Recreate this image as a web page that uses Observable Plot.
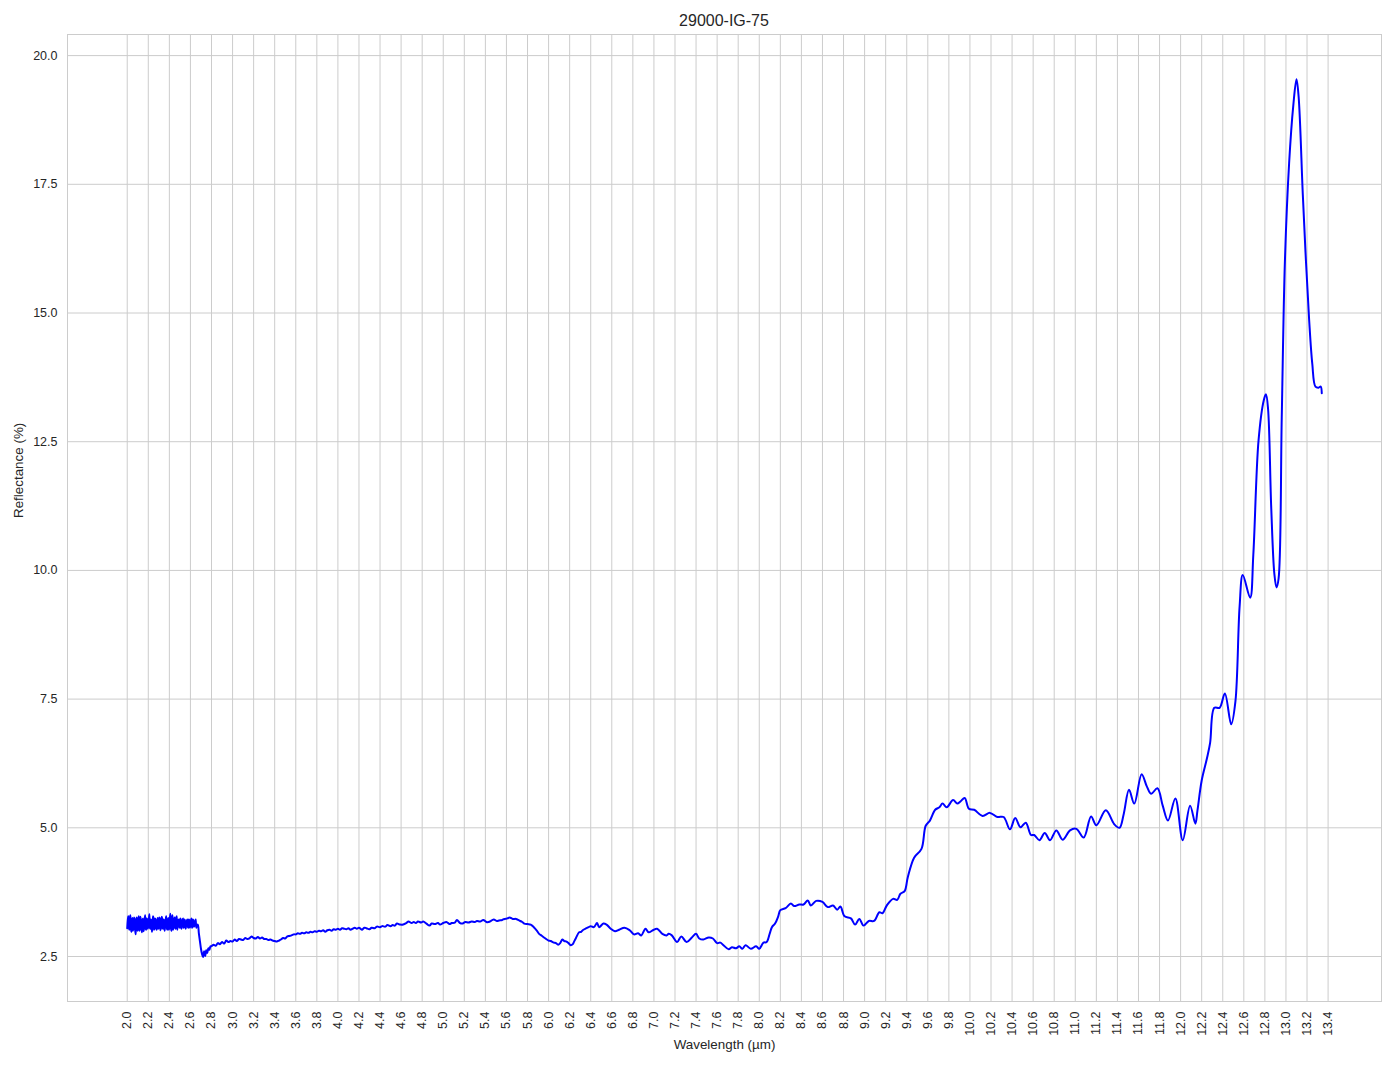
<!DOCTYPE html>
<html>
<head>
<meta charset="utf-8">
<script src="https://cdn.jsdelivr.net/npm/d3@7"></script>
<script src="https://cdn.jsdelivr.net/npm/@observablehq/plot@0.6"></script>
<style>
  html, body { margin: 0; padding: 0; background: #ffffff; }
  #title { height: 30px; box-sizing: border-box; padding-top: 13px; text-align: center;
           font-family: "Liberation Sans", Arial, sans-serif; font-size: 16px; line-height: 16px; color: #262626;
           width: 1394px; padding-left: 54px; }
  svg { display: block; }
</style>
</head>
<body>
<div id="title"></div>
<div id="chart"></div>
<script>
const chartTitle = "29000-IG-75";
const xLabel = "Wavelength (µm)";
const yLabel = "Reflectance (%)";

const xTicks = [2.0,2.2,2.4,2.6,2.8,3.0,3.2,3.4,3.6,3.8,4.0,4.2,4.4,4.6,4.8,5.0,5.2,5.4,5.6,5.8,
  6.0,6.2,6.4,6.6,6.8,7.0,7.2,7.4,7.6,7.8,8.0,8.2,8.4,8.6,8.8,9.0,9.2,9.4,9.6,9.8,
  10.0,10.2,10.4,10.6,10.8,11.0,11.2,11.4,11.6,11.8,12.0,12.2,12.4,12.6,12.8,13.0,13.2,13.4];
const yTicks = [2.5,5.0,7.5,10.0,12.5,15.0,17.5,20.0];

const wavelength = [
  2.000,2.005,2.010,2.015,2.020,2.025,2.030,2.035,2.040,2.045,
  2.050,2.055,2.060,2.065,2.070,2.075,2.080,2.085,2.090,2.095,
  2.100,2.105,2.110,2.115,2.120,2.125,2.130,2.135,2.140,2.145,
  2.150,2.155,2.160,2.165,2.170,2.175,2.180,2.185,2.190,2.195,
  2.200,2.205,2.210,2.215,2.220,2.225,2.230,2.235,2.240,2.245,
  2.250,2.255,2.260,2.265,2.270,2.275,2.280,2.285,2.290,2.295,
  2.300,2.305,2.310,2.315,2.320,2.325,2.330,2.335,2.340,2.345,
  2.350,2.355,2.360,2.365,2.370,2.375,2.380,2.385,2.390,2.395,
  2.400,2.405,2.410,2.415,2.420,2.425,2.430,2.435,2.440,2.445,
  2.450,2.455,2.460,2.465,2.470,2.475,2.480,2.485,2.490,2.495,
  2.500,2.505,2.510,2.515,2.520,2.525,2.530,2.535,2.540,2.545,
  2.550,2.555,2.560,2.565,2.570,2.575,2.580,2.585,2.590,2.595,
  2.600,2.605,2.610,2.615,2.620,2.625,2.630,2.635,2.640,2.645,
  2.650,2.655,2.660,
  2.67,2.68,2.69,2.70,2.71,2.72,2.73,2.74,2.75,2.76,2.77,2.78,2.79,
  2.80,2.82,2.84,2.86,2.88,2.90,2.92,2.94,2.96,2.98,
  3.00,3.02,3.04,3.06,3.08,3.10,3.12,3.14,3.16,3.18,
  3.20,3.22,3.24,3.26,3.28,3.30,3.32,3.34,3.36,3.38,
  3.40,3.42,3.44,3.46,3.48,3.50,3.52,3.54,3.56,3.58,
  3.60,3.62,3.64,3.66,3.68,3.70,3.72,3.74,3.76,3.78,
  3.80,3.82,3.84,3.86,3.88,3.90,3.92,3.94,3.96,3.98,
  4.00,4.02,4.04,4.06,4.08,4.10,4.12,4.14,4.16,4.18,
  4.20,
  4.23,4.25,4.27,4.30,4.32,4.35,4.37,4.40,4.42,4.45,
  4.47,4.50,4.52,4.54,4.56,4.59,4.62,4.65,4.67,4.70,
  4.72,4.74,4.76,4.79,4.81,4.84,4.87,4.89,4.92,4.95,
  4.97,5.00,5.03,5.06,5.08,5.11,5.13,5.16,5.18,5.21,
  5.24,5.27,5.30,5.32,5.35,5.38,5.41,5.43,5.46,5.48,
  5.51,5.53,5.56,5.58,5.61,5.63,5.66,5.69,5.72,5.75,
  5.77,5.80,5.83,5.86,5.89,5.91,5.93,5.95,5.97,6.00,
  6.02,6.05,6.07,6.09,6.11,6.13,6.15,6.17,6.19,6.21,
  6.23,6.24,6.26,6.29,6.31,6.33,6.35,6.38,6.40,6.43,
  6.46,6.48,6.52,6.55,6.59,6.63,6.67,6.72,6.77,6.81,
  6.85,6.88,6.92,6.95,6.99,7.03,7.08,7.12,7.14,7.17,
  7.22,7.26,7.31,7.36,7.40,7.43,7.47,7.52,7.56,7.60,
  7.63,7.66,7.71,7.74,7.78,7.81,7.84,7.87,7.92,7.97,
  8.00,8.04,8.07,8.10,8.12,8.15,8.18,8.20,8.25,8.30,
  8.33,8.38,8.42,8.46,8.49,8.54,8.60,8.65,8.70,8.74,
  8.77,8.81,8.87,8.91,8.95,8.99,9.04,9.09,9.14,9.17,
  9.21,9.27,9.31,9.34,9.38,9.41,9.47,9.54,9.58,9.62,
  9.67,9.71,9.74,9.78,9.84,9.88,9.91,9.95,9.99,10.04,
  10.12,10.19,10.26,10.32,10.38,10.43,10.48,10.53,10.58,10.61,
  10.66,10.71,10.76,10.82,10.88,10.95,11.01,11.08,11.15,11.20,
  11.29,11.37,11.42,11.46,11.51,11.56,11.63,11.68,11.72,11.78,11.83,11.88,11.95,
  12.02,12.09,12.14,12.16,12.20,12.25,12.28,12.32,12.37,12.42,
  12.48,12.52,12.56,12.59,12.66,12.69,12.74,12.79,12.81,12.83,
  12.86,12.89,12.91,12.93,12.96,12.99,13.03,13.07,13.10,13.12,
  13.16,13.19,13.22,13.25,13.28,13.31,13.33,13.34
];

const reflectance = [
  3.05,3.20,3.28,3.08,3.02,3.24,3.30,3.04,2.98,3.18,
  3.25,3.00,3.08,3.26,3.22,3.02,2.93,3.20,3.26,3.06,
  3.00,3.22,3.28,3.00,3.05,3.27,3.20,3.03,2.97,3.20,
  3.24,2.99,3.06,3.18,3.30,3.05,3.02,3.24,3.22,3.04,
  3.08,3.20,3.32,3.06,3.04,3.22,3.18,2.98,3.10,3.28,
  3.24,3.02,3.06,3.24,3.20,3.05,3.02,3.20,3.25,3.04,
  3.08,3.26,3.22,3.01,3.05,3.24,3.27,3.06,3.04,3.22,
  3.20,3.00,3.10,3.20,3.28,3.06,3.02,3.18,3.25,3.02,
  3.06,3.24,3.33,3.05,3.00,3.22,3.30,3.02,3.08,3.20,
  3.26,3.06,3.04,3.24,3.28,3.02,3.10,3.20,3.22,3.08,
  3.06,3.24,3.20,3.04,3.10,3.20,3.24,3.06,3.08,3.22,
  3.18,3.04,3.12,3.18,3.22,3.08,3.06,3.22,3.20,3.06,
  3.10,3.20,3.24,3.06,3.08,3.22,3.18,3.08,3.12,3.18,
  3.22,3.06,3.10,
  3.12,2.95,2.80,2.65,2.55,2.49,2.60,2.51,2.62,2.57,2.66,2.63,2.70,
  2.70,2.73,2.71,2.76,2.74,2.78,2.75,2.81,2.78,2.80,
  2.79,2.83,2.80,2.84,2.83,2.82,2.86,2.84,2.85,2.89,
  2.86,2.85,2.88,2.85,2.87,2.84,2.84,2.82,2.83,2.81,
  2.80,2.79,2.81,2.83,2.86,2.85,2.89,2.90,2.91,2.93,
  2.93,2.95,2.94,2.96,2.95,2.97,2.96,2.98,2.97,2.99,
  2.98,3.00,2.99,3.01,2.98,3.01,3.02,3.00,3.03,3.02,
  3.04,3.02,3.05,3.04,3.03,3.05,3.02,3.04,3.06,3.04,
  3.06,
  3.02,3.06,3.05,3.03,3.06,3.05,3.08,3.07,3.09,3.08,
  3.11,3.09,3.11,3.10,3.14,3.12,3.12,3.15,3.18,3.15,
  3.17,3.15,3.18,3.16,3.18,3.14,3.10,3.14,3.13,3.15,
  3.12,3.15,3.17,3.13,3.15,3.16,3.21,3.15,3.14,3.17,
  3.16,3.18,3.17,3.19,3.18,3.21,3.17,3.17,3.20,3.22,
  3.19,3.20,3.21,3.23,3.24,3.26,3.23,3.23,3.20,3.17,
  3.14,3.13,3.12,3.07,3.00,2.94,2.91,2.88,2.85,2.81,
  2.80,2.77,2.76,2.73,2.76,2.83,2.80,2.79,2.76,2.72,
  2.74,2.78,2.86,2.97,2.98,3.02,3.04,3.07,3.09,3.07,
  3.15,3.07,3.14,3.12,3.04,2.99,3.02,3.06,3.01,2.93,
  2.95,2.91,3.04,2.97,3.01,3.04,2.94,2.91,2.94,2.91,
  2.78,2.89,2.78,2.87,2.94,2.85,2.83,2.87,2.85,2.76,
  2.77,2.72,2.64,2.68,2.66,2.70,2.65,2.72,2.65,2.70,
  2.65,2.77,2.78,2.95,3.07,3.14,3.28,3.40,3.44,3.53,
  3.48,3.51,3.51,3.59,3.49,3.58,3.56,3.46,3.49,3.41,
  3.47,3.28,3.24,3.12,3.23,3.10,3.19,3.19,3.36,3.34,
  3.49,3.62,3.60,3.72,3.77,4.04,4.42,4.59,5.04,5.14,
  5.35,5.40,5.47,5.40,5.54,5.47,5.51,5.58,5.37,5.35,
  5.23,5.29,5.21,5.21,4.97,5.19,5.01,5.10,4.86,4.86,
  4.76,4.90,4.76,4.95,4.77,4.95,4.98,4.81,5.22,5.05,
  5.34,5.07,5.00,5.27,5.74,5.47,6.04,5.80,5.66,5.77,5.43,5.14,5.57,
  4.76,5.43,5.08,5.34,5.92,6.35,6.65,7.33,7.33,7.61,
  7.01,7.45,9.30,9.91,9.47,10.30,12.53,13.31,13.42,13.14,
  11.23,9.93,9.67,9.84,12.97,16.00,17.91,19.04,19.54,19.21,
  17.30,16.00,14.87,14.01,13.57,13.55,13.57,13.44
];

if (wavelength.length !== reflectance.length) {
  throw new Error("length mismatch " + wavelength.length + " vs " + reflectance.length);
}

const data = wavelength.map((w, i) => ({wl: w, r: reflectance[i]}));
const fmt = d3.format(".1f");

document.getElementById("title").textContent = chartTitle;

const chart = Plot.plot({
  width: 1394,
  height: 1039,
  marginTop: 4,
  marginLeft: 67,
  marginRight: 13,
  marginBottom: 68,
  style: {fontFamily: "'Liberation Sans', Arial, sans-serif", fontSize: "12.5px", color: "#262626", background: "#ffffff"},
  x: {domain: [1.433, 13.907]},
  y: {domain: [1.626, 20.41]},
  marks: [
    Plot.gridX(xTicks, {stroke: "#cccccc", strokeOpacity: 1, strokeWidth: 1}),
    Plot.gridY(yTicks, {stroke: "#cccccc", strokeOpacity: 1, strokeWidth: 1}),
    Plot.frame({stroke: "#cccccc", strokeWidth: 1}),
    Plot.axisX(xTicks, {tickSize: 0, tickPadding: 10, tickRotate: -90, tickFormat: fmt, label: null, fill: "#262626"}),
    Plot.axisY(yTicks, {tickSize: 0, tickPadding: 10, tickFormat: fmt, label: null, fill: "#262626"}),
    Plot.text([xLabel], {frameAnchor: "bottom", dy: 47, fontSize: 13.4, fill: "#262626"}),
    Plot.text([yLabel], {frameAnchor: "left", dx: -49, rotate: -90, fontSize: 13.4, fill: "#262626"}),
    Plot.line(data, {x: "wl", y: "r", stroke: "#0000ff", strokeWidth: 2, curve: "catmull-rom"})
  ]
});
document.getElementById("chart").appendChild(chart);
</script>
</body>
</html>
